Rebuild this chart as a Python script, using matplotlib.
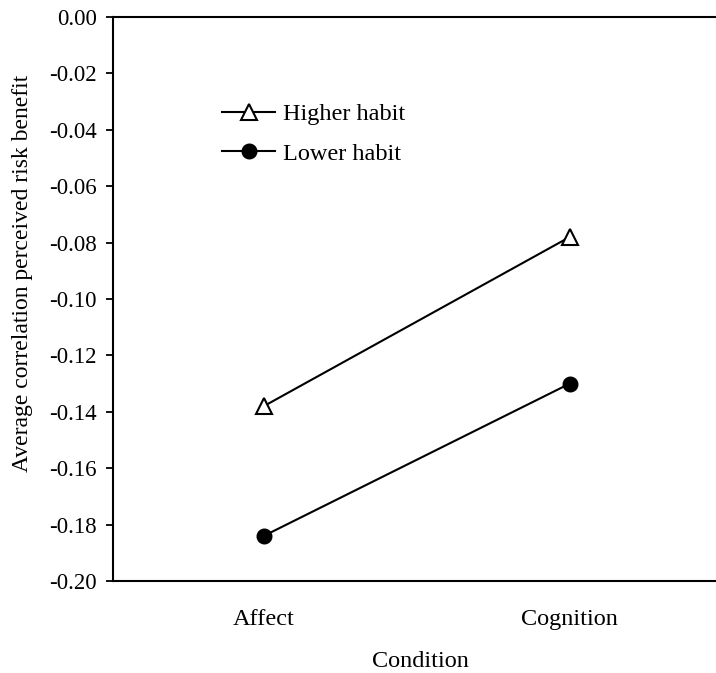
import matplotlib
matplotlib.use("Agg")
import matplotlib.pyplot as plt

categories = ["Affect", "Cognition"]
higher_habit = [-0.138, -0.078]
lower_habit = [-0.184, -0.130]
yticks = [0.00, -0.02, -0.04, -0.06, -0.08, -0.10, -0.12, -0.14, -0.16, -0.18, -0.20]

plt.rcParams['font.family'] = ['Liberation Serif', 'DejaVu Serif']

W, H = 716, 673
fig = plt.figure(figsize=(W/100, H/100), dpi=100)
left, right, top, bottom = 113, 716, 17, 581
ax = fig.add_axes([left/W, 1 - bottom/H, (right-left)/W, (bottom-top)/H])

x = [1, 2]
ax.plot(x, higher_habit, color='black', lw=1.5, marker='^', markersize=11,
        markerfacecolor='white', markeredgecolor='black', markeredgewidth=1.5,
        label='Higher habit', zorder=3)
ax.plot(x, lower_habit, color='black', lw=1.5, marker='o', markersize=10.5,
        markerfacecolor='black', markeredgecolor='black',
        label='Lower habit', zorder=3)

fs = 17.5
ax.set_xlim(0.507, 2.478)
ax.set_ylim(-0.20, 0.0)
ax.set_xticks(x)
ax.set_xticklabels(categories, fontsize=fs)
ax.tick_params(axis='x', length=0, pad=20.5)
ax.set_yticks(yticks)
ax.set_yticklabels([f"{v:.2f}" for v in yticks], fontsize=16.5)
ax.tick_params(axis='y', direction='out', length=5, width=1.3, pad=6.5)
ax.spines['right'].set_visible(False)
for s in ['left', 'top', 'bottom']:
    ax.spines[s].set_linewidth(1.5)

ax.set_xlabel("Condition", fontsize=fs)
ax.xaxis.set_label_coords((420 - left) / (right - left), -(651 - bottom) / (bottom - top))
ax.set_ylabel("Average correlation perceived risk benefit", fontsize=17)
ax.yaxis.set_label_coords((33 - left) / (right - left), 0.546)

leg = ax.legend(loc='upper left',
                bbox_to_anchor=((222 - left) / (right - left), 1 - (103 - top) / (bottom - top)),
                frameon=False, fontsize=fs, handlelength=2.2, handletextpad=0.3,
                labelspacing=0.72, borderpad=0, borderaxespad=0)

fig.savefig("out.png", dpi=100)
